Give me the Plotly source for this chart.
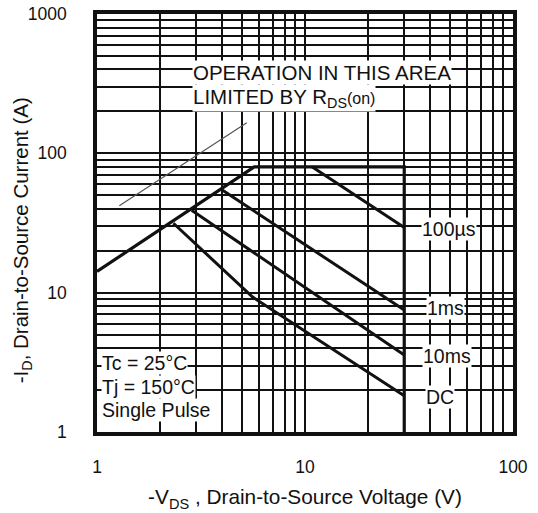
import math
import plotly.graph_objects as go

# Safe operating area boundaries (V in volts, I in amps)
V_LIMIT = [1.0, 5.7, 30.0, 30.0]
I_LIMIT = [14.2, 80.0, 80.0, 1.0]

V_100US = [10.8, 30.0]
I_100US = [80.0, 29.3]

V_1MS = [4.0, 30.0]
I_1MS = [54.5, 7.5]

V_10MS = [2.85, 30.0]
I_10MS = [39.0, 3.57]

V_DC = [2.33, 5.6, 30.0]
I_DC = [31.5, 9.3, 1.82]

V_POINTER = [1.28, 5.25]
I_POINTER = [42.0, 166.0]

X_TICKS = [1, 10, 100]
X_TICK_TEXT = ["1", "10", "100"]
Y_TICKS = [1, 10, 100, 1000]
Y_TICK_TEXT = ["1", "10", "100", "1000"]
X_MINOR = [m * d for d in (1, 10) for m in range(2, 10)]
Y_MINOR = [m * d for d in (1, 10, 100) for m in range(2, 10)]

FONT = "Liberation Sans, Arial, sans-serif"
INK = "#111111"

fig = go.Figure()

line_sets = [
    (V_LIMIT, I_LIMIT, 3.2),
    (V_100US, I_100US, 3),
    (V_1MS, I_1MS, 3),
    (V_10MS, I_10MS, 3),
    (V_DC, I_DC, 3),
]
for vx, iy, w in line_sets:
    fig.add_trace(go.Scatter(x=vx, y=iy, mode="lines",
                             line=dict(color=INK, width=w),
                             hoverinfo="skip", showlegend=False))

fig.add_trace(go.Scatter(x=V_POINTER, y=I_POINTER, mode="lines",
                         line=dict(color="#555555", width=1.2),
                         hoverinfo="skip", showlegend=False))

grid = dict(showgrid=True, gridcolor=INK, gridwidth=2)

fig.update_xaxes(
    type="log", range=[0, 2], automargin=False,
    tickmode="array", tickvals=X_TICKS, ticktext=X_TICK_TEXT,
    ticks="", ticklabelstandoff=16,
    tickfont=dict(family=FONT, size=17.5, color=INK),
    showline=True, linecolor=INK, linewidth=3.5, mirror=True,
    minor=dict(tickmode="array", tickvals=X_MINOR, ticks="", **grid),
    title=dict(text="-V<sub>DS</sub> , Drain-to-Source Voltage (V)",
               font=dict(family=FONT, size=20.8, color=INK), standoff=15),
    zeroline=False,
    **grid,
)
fig.update_yaxes(
    type="log", range=[0, 3], automargin=False,
    tickmode="array", tickvals=Y_TICKS, ticktext=Y_TICK_TEXT,
    ticks="", ticklabelstandoff=23,
    tickfont=dict(family=FONT, size=17.5, color=INK),
    showline=True, linecolor=INK, linewidth=3.5, mirror=True,
    minor=dict(tickmode="array", tickvals=Y_MINOR, ticks="", **grid),
    zeroline=False,
    **grid,
)

# Vertical axis title, placed beside the tick labels
fig.add_annotation(text="-I<sub>D</sub>, Drain-to-Source Current (A)",
                   xref="paper", yref="paper", x=-0.18, y=0.459,
                   xanchor="center", yanchor="middle", textangle=-90,
                   showarrow=False,
                   font=dict(family=FONT, size=20.5, color=INK))


def label(text, x, y, size=19.5):
    fig.add_annotation(text=text, xref="paper", yref="paper", x=x, y=y,
                       xanchor="left", yanchor="middle", showarrow=False,
                       align="left", bgcolor="white", borderpad=0,
                       font=dict(family=FONT, size=size, color=INK))


label("OPERATION IN THIS AREA", 0.228, 0.859, 20.5)
label("LIMITED BY R<sub>DS</sub><span style='font-size:16px'>(on)</span>",
      0.228, 0.799, 20.5)
label("100\u00b5s", 0.778, 0.4856)
label("1ms", 0.790, 0.2967)
label("10ms", 0.781, 0.1818)
label("DC", 0.788, 0.0837)
label("Tc = 25\u00b0C", 0.009, 0.165)
label("Tj = 150\u00b0C", 0.009, 0.108)
label("Single Pulse", 0.009, 0.0526)

fig.update_layout(
    width=538, height=513,
    margin=dict(l=97, r=25, t=14, b=81),
    paper_bgcolor="white", plot_bgcolor="white",
    font=dict(family=FONT, color=INK),
)

fig.write_html("out.html")
